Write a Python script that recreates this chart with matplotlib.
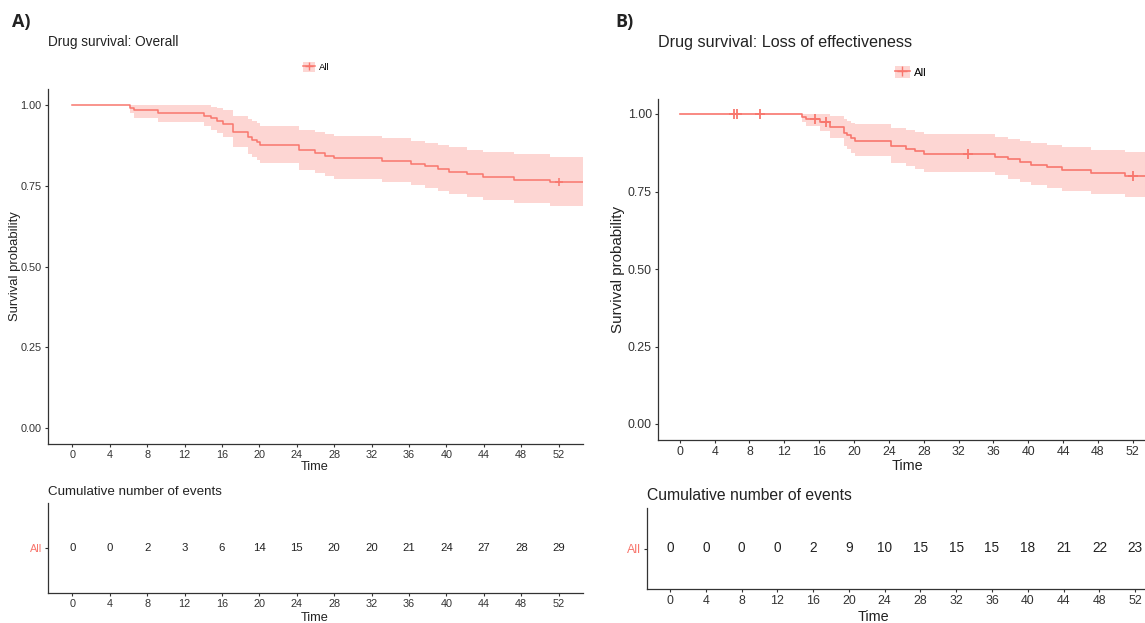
import numpy as np
import matplotlib
matplotlib.use("Agg")
import matplotlib.pyplot as plt
from matplotlib.lines import Line2D
from matplotlib.patches import Patch

plt.rcParams['font.family'] = ['Liberation Sans', 'DejaVu Sans']

# ---------------- data ----------------
N_A = 121
eventA_t = [6.2, 6.6, 9.2, 14.1, 14.8, 15.5, 16.1, 17.2, 18.8, 19.2, 19.7, 20.1,
            24.2, 26.0, 27.0, 28.0, 33.1, 36.2, 37.7, 39.1, 40.3, 42.2, 43.9, 47.2, 51.1]
eventA_d = [1, 1, 1, 1, 1, 1, 1, 3, 2, 1, 1, 1,
            2, 1, 1, 1, 1, 1, 1, 1, 1, 1, 1, 1, 1]
censorA_t = [52.0]

N_B = 121
eventB_t = [14.0, 14.5, 16.1, 17.2, 18.8, 19.2, 19.7, 20.1,
            24.2, 26.0, 27.0, 28.0, 36.2, 37.7, 39.1, 40.3, 42.2, 43.9, 47.2, 51.1]
eventB_d = [1, 1, 1, 2, 2, 1, 1, 1,
            2, 1, 1, 1, 1, 1, 1, 1, 1, 1, 1, 1]
censorB_t = [6.2, 6.6, 9.2, 15.5, 16.8, 33.1, 52.0]

time_breaks = [0, 4, 8, 12, 16, 20, 24, 28, 32, 36, 40, 44, 48, 52]
cum_events_A = [0, 0, 2, 3, 6, 14, 15, 20, 20, 21, 24, 27, 28, 29]
cum_events_B = [0, 0, 0, 0, 2, 9, 10, 15, 15, 15, 18, 21, 22, 23]

title_A = "Drug survival: Overall"
title_B = "Drug survival: Loss of effectiveness"
strata = "All"

RED = "#F8766D"
BAND = "#FDD6D3"
DARK = "#333333"


def km(ev_t, ev_d, cen_t, n0, tmax):
    ev = {}
    for t, d in zip(ev_t, ev_d):
        ev[t] = ev.get(t, 0) + d
    cen = {}
    for t in cen_t:
        cen[t] = cen.get(t, 0) + 1
    times = sorted(set(ev) | set(cen))
    n = n0
    S = 1.0
    v = 0.0
    xs, ss, lo, hi = [0.0], [1.0], [1.0], [1.0]
    cx, cy = [], []
    for t in times:
        d = ev.get(t, 0)
        c = cen.get(t, 0)
        if d > 0:
            S *= (n - d) / n
            v += d / (n * (n - d))
            se = np.sqrt(v)
            xs.append(t)
            ss.append(S)
            lo.append(S * np.exp(-1.96 * se))
            hi.append(min(1.0, S * np.exp(1.96 * se)))
        if c > 0:
            cx.append(t)
            cy.append(S)
        n -= d + (c if t < max(cen_t) else 0)
    xs.append(tmax)
    ss.append(ss[-1])
    lo.append(lo[-1])
    hi.append(hi[-1])
    return np.array(xs), np.array(ss), np.array(lo), np.array(hi), cx, cy


W, H = 1145, 623
fig = plt.figure(figsize=(W / 100, H / 100), dpi=100)


def fx(px):
    return px / W


def fy(py):
    return 1 - py / H


def surv_panel(rect, xlim, ev_t, ev_d, cen_t, n0, tick_fs, lw, ms, mew):
    ax = fig.add_axes(rect)
    xs, ss, lo, hi, cx, cy = km(ev_t, ev_d, cen_t, n0, xlim[1])
    ax.fill_between(xs, lo, hi, step='post', color=BAND, lw=0)
    ax.step(xs, ss, where='post', color=RED, lw=lw)
    ax.plot(cx, cy, ls='none', marker='+', color=RED, ms=ms, mew=mew)
    ax.set_xlim(*xlim)
    ax.set_ylim(-0.05, 1.05)
    ax.set_xticks(time_breaks)
    ax.set_yticks([0, 0.25, 0.5, 0.75, 1.0])
    ax.set_yticklabels(["0.00", "0.25", "0.50", "0.75", "1.00"])
    for s in ['top', 'right']:
        ax.spines[s].set_visible(False)
    for s in ['left', 'bottom']:
        ax.spines[s].set_color(DARK)
        ax.spines[s].set_linewidth(0.9)
    ax.tick_params(length=2.5, width=0.8, color=DARK, labelcolor=DARK,
                   labelsize=tick_fs, pad=2)
    return ax


def table_panel(rect, xlim, counts, tick_fs, num_fs):
    ax = fig.add_axes(rect)
    ax.set_xlim(*xlim)
    ax.set_ylim(0, 1)
    for t, c in zip(time_breaks, counts):
        ax.text(t, 0.5, str(c), ha='center', va='center', fontsize=num_fs, color='#222222')
    ax.set_xticks(time_breaks)
    ax.set_yticks([0.5])
    ax.set_yticklabels([strata])
    ax.get_yticklabels()[0].set_color(RED)
    for s in ['top', 'right']:
        ax.spines[s].set_visible(False)
    for s in ['left', 'bottom']:
        ax.spines[s].set_color(DARK)
        ax.spines[s].set_linewidth(0.9)
    ax.tick_params(axis='x', length=2.5, width=0.8, color=DARK, labelcolor=DARK,
                   labelsize=tick_fs, pad=2)
    ax.tick_params(axis='y', length=2.5, width=0.8, color=DARK,
                   labelsize=tick_fs, pad=2)
    return ax


# ---------------- Panel A ----------------
axA = surv_panel([fx(48), fy(444), fx(583 - 48), (444 - 89) / H], (-2.6, 54.6),
                 eventA_t, eventA_d, censorA_t, N_A, 7.8, 1.1, 6, 1.1)
fig.text(fx(315), fy(467), "Time", ha='center', va='center', fontsize=9.2, color='#222222')
fig.text(fx(15), fy(266), "Survival probability", rotation=90, ha='center', va='center',
         fontsize=9.4, color='#222222')
fig.text(fx(48), fy(42), title_A, ha='left', va='center', fontsize=9.8, color='#222222')
fig.text(fx(12), fy(22), "A)", ha='left', va='center', fontsize=13, fontweight='bold',
         family='Open Sans', color='#222222')
fig.legend(handles=[(Patch(facecolor=BAND, edgecolor='none'),
                     Line2D([], [], color=RED, marker='+', ms=6, lw=1.1))],
           labels=[strata], loc='center', bbox_to_anchor=(fx(316), fy(67)),
           frameon=False, fontsize=6.8, handlelength=1.3, handleheight=1.3,
           handletextpad=0.4, borderpad=0)

tabA = table_panel([fx(48), fy(593), fx(583 - 48), (593 - 503) / H], (-2.6, 54.6),
                   cum_events_A, 7.8, 8.2)
fig.text(fx(315), fy(618), "Time", ha='center', va='center', fontsize=9.2, color='#222222')
fig.text(fx(48), fy(492), "Cumulative number of events", ha='left', va='center',
         fontsize=9.6, color='#222222')

# ---------------- Panel B ----------------
axB = surv_panel([fx(658), fy(439.5), fx(W - 658), (439.5 - 98.5) / H], (-2.5, 53.4),
                 eventB_t, eventB_d, censorB_t, N_B, 8.9, 1.2, 7.5, 1.3)
fig.text(fx(907), fy(466), "Time", ha='center', va='center', fontsize=10.4, color='#222222')
fig.text(fx(618), fy(269), "Survival probability", rotation=90, ha='center', va='center',
         fontsize=10.9, color='#222222')
fig.text(fx(658), fy(43), title_B, ha='left', va='center', fontsize=11.6, color='#222222')
fig.text(fx(615), fy(22), "B)", ha='left', va='center', fontsize=13, fontweight='bold',
         family='Open Sans', color='#222222')
fig.legend(handles=[(Patch(facecolor=BAND, edgecolor='none'),
                     Line2D([], [], color=RED, marker='+', ms=7, lw=1.2))],
           labels=[strata], loc='center', bbox_to_anchor=(fx(911), fy(72)),
           frameon=False, fontsize=8.2, handlelength=1.3, handleheight=1.3,
           handletextpad=0.4, borderpad=0)

tabB = table_panel([fx(647), fy(589), fx(W - 647), (589 - 508) / H], (-2.57, 53.1),
                   cum_events_B, 8.9, 9.8)
fig.text(fx(873), fy(617), "Time", ha='center', va='center', fontsize=10.4, color='#222222')
fig.text(fx(647), fy(495), "Cumulative number of events", ha='left', va='center',
         fontsize=11.3, color='#222222')

fig.savefig("out.png", dpi=100)
